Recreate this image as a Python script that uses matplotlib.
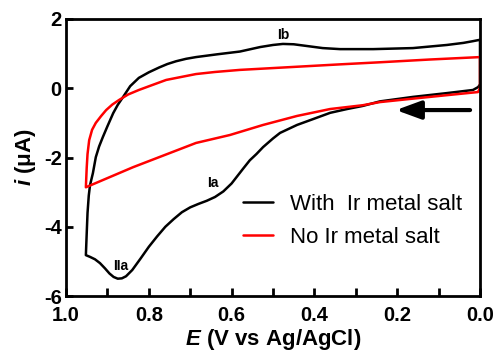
import matplotlib
matplotlib.use("Agg")
import matplotlib.pyplot as plt
from matplotlib.patches import ArrowStyle

plt.rcParams['font.family'] = ['Liberation Sans', 'DejaVu Sans']
plt.rcParams['mathtext.fontset'] = 'custom'
plt.rcParams['mathtext.it'] = 'Liberation Sans:italic:bold'
plt.rcParams['mathtext.rm'] = 'Liberation Sans:bold'

# With Ir metal salt (black): forward sweep 0 -> 0.95 V, then return
black_E = [0.0, 0.005, 0.017, 0.080, 0.162, 0.242, 0.283, 0.321, 0.362, 0.403,
           0.442, 0.483, 0.500, 0.524, 0.540, 0.556, 0.572, 0.587, 0.600, 0.620,
           0.640, 0.660, 0.680, 0.700, 0.720, 0.740, 0.760, 0.780, 0.800, 0.820,
           0.840, 0.855, 0.865, 0.875, 0.885, 0.895, 0.906, 0.918, 0.930, 0.942,
           0.952,
           0.950, 0.948, 0.945, 0.942, 0.935, 0.928, 0.920, 0.911, 0.900, 0.886,
           0.875, 0.862, 0.845, 0.824, 0.800, 0.775, 0.755, 0.734, 0.710, 0.686,
           0.635, 0.580, 0.531, 0.500, 0.476, 0.450, 0.418, 0.380, 0.338, 0.258,
           0.162, 0.080, 0.040, 0.017, 0.0, 0.0]
black_i = [0.10, 0.03, -0.05, -0.14, -0.25, -0.38, -0.51, -0.60, -0.71, -0.89,
           -1.06, -1.29, -1.45, -1.70, -1.90, -2.08, -2.32, -2.55, -2.75, -2.98,
           -3.14, -3.25, -3.34, -3.44, -3.58, -3.78, -4.00, -4.28, -4.58, -4.92,
           -5.25, -5.43, -5.49, -5.50, -5.45, -5.35, -5.20, -5.05, -4.94, -4.87,
           -4.82,
           -4.20, -3.60, -3.10, -2.80, -2.45, -1.99, -1.68, -1.41, -1.10, -0.72,
           -0.48, -0.25, 0.06, 0.30, 0.46, 0.60, 0.70, 0.78, 0.85, 0.90,
           0.98, 1.06, 1.19, 1.25, 1.28, 1.27, 1.22, 1.16, 1.13, 1.13,
           1.16, 1.25, 1.31, 1.36, 1.40, 0.10]

# No Ir metal salt (red)
red_E = [0.0, 0.005, 0.080, 0.162, 0.242, 0.283, 0.362, 0.442, 0.524, 0.604,
         0.686, 0.838, 0.952,
         0.950, 0.948, 0.944, 0.937, 0.928, 0.915, 0.903, 0.888, 0.872, 0.850,
         0.824, 0.790, 0.758, 0.720, 0.686, 0.640, 0.580, 0.338, 0.242, 0.121,
         0.0, 0.0]
red_i = [0.0, -0.11, -0.20, -0.30, -0.40, -0.49, -0.60, -0.80, -1.06, -1.35,
         -1.58, -2.28, -2.86,
         -2.30, -1.90, -1.50, -1.20, -1.00, -0.80, -0.63, -0.47, -0.34, -0.18,
         -0.05, 0.10, 0.24, 0.33, 0.41, 0.47, 0.53, 0.69, 0.75, 0.83,
         0.90, 0.0]

labels = ["With  Ir metal salt", "No Ir metal salt"]
peak_names = ["Ib", "Ia", "IIa"]
peak_E = [0.476, 0.645, 0.867]
peak_i = [1.54, -2.74, -5.14]

arrow_from = (0.024, -0.63)
arrow_to = (0.203, -0.63)

fig = plt.figure(figsize=(4.95, 3.53), dpi=100)
ax = fig.add_axes([66/495, 1-296/353, (480-66)/495, (296-19)/353])

line_kw = dict(lw=1.8, solid_joinstyle='round', solid_capstyle='round')
l1, = ax.plot(black_E, black_i, color='black', label=labels[0], **line_kw)
l2, = ax.plot(red_E, red_i, color='#ff0000', label=labels[1], **line_kw)

for name, e, i in zip(peak_names, peak_E, peak_i):
    ax.text(e, i, name, fontsize=10, fontweight='bold', ha='center', va='center')

ax.annotate('', xy=arrow_to, xytext=arrow_from,
            arrowprops=dict(arrowstyle=ArrowStyle('-|>', head_length=1.5, head_width=0.55),
                            mutation_scale=10, lw=3, color='black',
                            shrinkA=0, shrinkB=0))

ax.set_xlim(1.0, 0.0)
ax.set_ylim(-6, 2)
ax.set_xticks([1.0, 0.8, 0.6, 0.4, 0.2, 0.0])
ax.set_xticklabels(['1.0', '0.8', '0.6', '0.4', '0.2', '0.0'])
ax.set_xticks([0.9, 0.7, 0.5, 0.3, 0.1], minor=True)
ax.set_yticks([-6, -4, -2, 0, 2])
ax.set_yticklabels(['-6', '-4', '-2', '0', '2'])

for s in ax.spines.values():
    s.set_linewidth(2)
ax.tick_params(axis='x', which='both', direction='in', length=6, width=2,
               labelsize=14.5, pad=7)
ax.tick_params(axis='y', which='both', direction='in', length=5, width=2,
               labelsize=14.5, pad=3)
for t in ax.get_xticklabels() + ax.get_yticklabels():
    t.set_fontweight('bold')

ax.set_xlabel(r'$E$ (V vs Ag/AgCl)', fontsize=16, fontweight='bold', labelpad=2)
ax.set_ylabel(r'$i$ ($\mathrm{\mu}$A)', fontsize=16, fontweight='bold', labelpad=4)

ax.legend(handles=[l1, l2], loc='upper left', bbox_to_anchor=(0.4275, 0.37),
          frameon=False, fontsize=16, handlelength=1.35, handletextpad=0.77,
          borderpad=0, borderaxespad=0, labelspacing=0.55)

fig.savefig('out.png', dpi=100)
